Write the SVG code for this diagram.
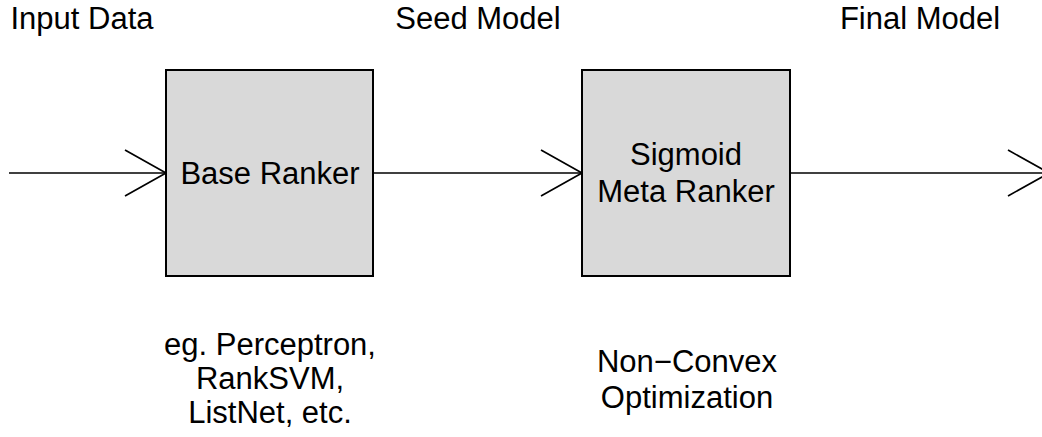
<svg xmlns="http://www.w3.org/2000/svg" width="1042" height="437" viewBox="0 0 1042 437">
<style>
text{font-family:"Liberation Sans",Arial,sans-serif;font-size:31px;fill:#000;text-anchor:middle}
.box{fill:#d9d9d9;stroke:#000;stroke-width:2}
.conn{stroke:#000;stroke-width:1.7;fill:none}
</style>
<defs>
<marker id="chev" markerUnits="userSpaceOnUse" markerWidth="50" markerHeight="54" refX="42" refY="25" orient="auto" overflow="visible">
<path d="M1,2 L42,25 L1,48" fill="none" stroke="#000" stroke-width="1.7"/>
</marker>
</defs>
<rect width="1042" height="437" fill="#fff"/>
<g id="connectors">
<line class="conn" x1="9" y1="173" x2="166" y2="173" marker-end="url(#chev)"/>
<line class="conn" x1="373" y1="173" x2="582" y2="173" marker-end="url(#chev)"/>
<line class="conn" x1="790" y1="173" x2="1049" y2="173" marker-end="url(#chev)"/>
</g>
<g id="labels">
<text x="82" y="29">Input Data</text>
<text x="478" y="29">Seed Model</text>
<text x="920" y="29">Final Model</text>
</g>
<g id="base-ranker">
<rect class="box" x="166" y="70" width="207" height="206"/>
<text x="270" y="184">Base Ranker</text>
</g>
<g id="meta-ranker">
<rect class="box" x="582" y="70" width="208" height="206"/>
<text x="686" y="165">Sigmoid</text>
<text x="686" y="202">Meta Ranker</text>
</g>
<g id="base-note">
<text x="270" y="355">eg. Perceptron,</text>
<text x="270" y="389">RankSVM,</text>
<text x="270" y="423">ListNet, etc.</text>
</g>
<g id="meta-note">
<text x="687" y="372">Non−Convex</text>
<text x="687" y="408">Optimization</text>
</g>
</svg>
